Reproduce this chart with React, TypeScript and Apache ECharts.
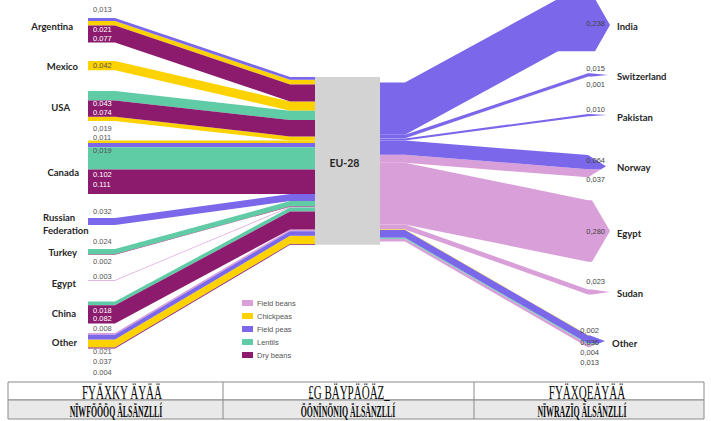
import React, { useEffect, useRef } from 'react';
import * as echarts from 'echarts';

// ---------------- data ----------------
const PRODUCTS = ['Field beans', 'Chickpeas', 'Field peas', 'Lentils', 'Dry beans'];
const HUB = 'EU-28';

const IMPORT_COUNTRIES = ['Argentina', 'Mexico', 'USA', 'Canada', 'Russian\nFederation', 'Turkey', 'Egypt', 'China', 'Other'];
const IMPORT_COUNTRY = [0, 0, 0, 1, 2, 2, 2, 3, 3, 3, 3, 4, 5, 5, 6, 7, 7, 8, 8, 8, 8];
const IMPORT_PRODUCT = [2, 1, 4, 1, 3, 4, 1, 1, 2, 3, 4, 2, 3, 4, 0, 3, 4, 0, 2, 1, 4];
const IMPORT_VALUE = [0.013, 0.021, 0.077, 0.042, 0.043, 0.074, 0.019, 0.011, 0.019, 0.102, 0.111, 0.032, 0.024, 0.002, 0.003, 0.018, 0.082, 0.008, 0.021, 0.037, 0.004];
const IMPORT_LABEL = ['0,013', '0.021', '0.077', '0.042', '0.043', '0.074', '0,019', '0,011', '0,019', '0.102', '0.111', '0.032', '0.024', '0.002', '0.003', '0.018', '0.082', '0.008', '0.021', '0.037', '0.004'];

const EXPORT_COUNTRIES = ['India', 'Switzerland', 'Pakistan', 'Norway', 'Egypt', 'Sudan', 'Other'];
const EXPORT_COUNTRY = [0, 1, 1, 2, 3, 3, 4, 5, 6, 6, 6, 6];
const EXPORT_PRODUCT = [2, 2, 0, 2, 2, 0, 0, 0, 1, 2, 3, 0];
const EXPORT_VALUE = [0.238, 0.015, 0.001, 0.010, 0.064, 0.037, 0.280, 0.023, 0.002, 0.036, 0.004, 0.013];
const EXPORT_LABEL = ['0,238', '0,015', '0,001', '0,010', '0,064', '0,037', '0,280', '0,023', '0,002', '0,036', '0,004', '0,013'];

const TABLE_ROW1 = ['FYÄXKY ÄYÄÄ', '£G BÄYPÄÖÄZ_', 'FYÄXQEÄYÄÄ'];
const TABLE_ROW2 = ['NÏWFÖÖÖQ ÄLSÄNZLLÍ', 'ÖÖNÏNÖNIQ ÄLSÄNZLLÍ', 'NÏWRAZÏQ ÄLSÄNZLLÍ'];

// ---------------- styles ----------------
const PRODUCT_COLORS = ['#d99fd8', '#fcd200', '#7a67ea', '#5fcca6', '#8c1b6e'];
const HUB_COLOR = '#d3d3d3';
const FONT = "'Liberation Sans', Arial, sans-serif";
const NAME_FONT = "Lato, 'Liberation Sans', sans-serif";

// ---------------- layout (x in px units of the x axis, y in value units) ----------------
const Y_SPAN = 421 / 220;
const X_LEFT = 88, X_LEFT_BEND = 115, X_HUB_BEND = 290, X_HUB_L = 315, X_HUB_R = 380, X_OUT_BEND = 405;
const HUB_IN_TOP = 0.35, HUB_OUT_TOP = 0.375;
const IMPORT_NODE_TOP = [0.082, 0.277, 0.414, 0.639, 0.991, 1.132, 1.273, 1.37, 1.514];
const EXPORT_NODE_TOP = [-0.005, 0.333, 0.518, 0.705, 0.91, 1.316, 1.523];
const EXPORT_BEND = [558, 588, 588, 588, 588, 588, 588];
const EXPORT_TIP = [610, 608, 607, 606, 610, 610, 605];
const EXPORT_HEAD = [15, 18, 18, 18, 18, 18, 16];
const IMPORT_LABEL_X = 93;
const IMPORT_LABEL_DY = [-9, 8.1, 12.5, 4.1, 12.9, 12.2, 11.2, -2.6, 7, 27.8, 14.4, -7, -8, 6.7, -4, 9.2, 13.6, -5.0, 17.1, 22.5, 24.4];
const IMPORT_LABEL_LIGHT = [0, 1, 1, 0, 1, 1, 0, 0, 0, 1, 1, 0, 0, 0, 0, 1, 1, 0, 0, 0, 0];
const EXPORT_LABEL_X = [605, 605, 605, 605, 605, 605, 605, 605, 599, 599, 599, 599];
const EXPORT_LABEL_DY = [25, -4.3, 8.4, -4, 4.9, 10.8, 30.8, -8.5, -4.1, 6.5, 8.6, 17.7];
const IMPORT_NAME_X = [73, 78, 70, 79, 43, 77, 76, 76, 77];
const IMPORT_NAME_ALIGN = ['right', 'right', 'right', 'right', 'left', 'right', 'right', 'right', 'right'];
const IMPORT_NAME_DY = [-4, 0.5, 1, 5, 2, 1, 3, 0.6, 2];
const EXPORT_NAME_X = [617, 617, 617, 617, 617, 617, 612];
const EXPORT_NAME_DY = [1.5, 1.5, 2, 1.5, 2, 1.5, 2];

// ---------------- derived stacking ----------------
const importLeftY0: number[] = [];
const importHubY0: number[] = [];
const importNodeTotal = IMPORT_COUNTRIES.map(() => 0);
{
  let hub = HUB_IN_TOP;
  IMPORT_VALUE.forEach((v, i) => {
    const c = IMPORT_COUNTRY[i];
    importLeftY0.push(IMPORT_NODE_TOP[c] + importNodeTotal[c]);
    importNodeTotal[c] += v;
    importHubY0.push(hub);
    hub += v;
  });
}
const HUB_BOTTOM = HUB_IN_TOP + IMPORT_VALUE.reduce((a, b) => a + b, 0);

const exportRightY0: number[] = [];
const exportHubY0: number[] = [];
const exportNodeTotal = EXPORT_COUNTRIES.map(() => 0);
{
  let hub = HUB_OUT_TOP;
  EXPORT_VALUE.forEach((v, i) => {
    const c = EXPORT_COUNTRY[i];
    exportRightY0.push(EXPORT_NODE_TOP[c] + exportNodeTotal[c]);
    exportNodeTotal[c] += v;
    exportHubY0.push(hub);
    hub += v;
  });
}

type Ann = { text: string; x: number; y: number; dy: number; align: string; fill: string; size: number; weight: string; family: string };
const annotations: Ann[] = [];
IMPORT_VALUE.forEach((_, i) => annotations.push({
  text: IMPORT_LABEL[i], x: IMPORT_LABEL_X, y: importLeftY0[i], dy: IMPORT_LABEL_DY[i], align: 'left',
  fill: IMPORT_LABEL_LIGHT[i] ? '#ffffff' : '#555555', size: 7.5, weight: 'normal', family: FONT,
}));
EXPORT_VALUE.forEach((_, i) => annotations.push({
  text: EXPORT_LABEL[i], x: EXPORT_LABEL_X[i], y: exportRightY0[i], dy: EXPORT_LABEL_DY[i], align: 'right',
  fill: '#444444', size: 7.5, weight: 'normal', family: FONT,
}));
IMPORT_COUNTRIES.forEach((name, c) => annotations.push({
  text: name, x: IMPORT_NAME_X[c], y: IMPORT_NODE_TOP[c] + importNodeTotal[c] / 2, dy: IMPORT_NAME_DY[c],
  align: IMPORT_NAME_ALIGN[c], fill: '#262626', size: 9.5, weight: 'bold', family: NAME_FONT,
}));
EXPORT_COUNTRIES.forEach((name, c) => annotations.push({
  text: name, x: EXPORT_NAME_X[c], y: EXPORT_NODE_TOP[c] + exportNodeTotal[c] / 2, dy: EXPORT_NAME_DY[c],
  align: 'left', fill: '#262626', size: 9.5, weight: 'bold', family: NAME_FONT,
}));

function renderBand(_params: any, api: any) {
  const kind = api.value(0);
  const i = api.value(1);
  let pts: number[][];
  if (kind === 0) {
    const v = IMPORT_VALUE[i], a = importLeftY0[i], b = importHubY0[i];
    pts = [[X_LEFT, a], [X_LEFT_BEND, a], [X_HUB_BEND, b], [X_HUB_L, b], [X_HUB_L, b + v], [X_HUB_BEND, b + v], [X_LEFT_BEND, a + v], [X_LEFT, a + v]];
  } else {
    const v = EXPORT_VALUE[i], c = EXPORT_COUNTRY[i], e = exportHubY0[i], r = exportRightY0[i];
    const tot = exportNodeTotal[c], mid = EXPORT_NODE_TOP[c] + tot / 2, half = tot / 2;
    const tip = EXPORT_TIP[c], base = tip - EXPORT_HEAD[c], bend = EXPORT_BEND[c];
    const xe = (y: number) => base + (tip - base) * Math.max(0, 1 - Math.abs(y - mid) / half);
    pts = [[X_HUB_R, e], [X_OUT_BEND, e], [bend, r], [xe(r), r]];
    if (r < mid && r + v > mid) pts.push([tip, mid]);
    pts.push([xe(r + v), r + v], [bend, r + v], [X_OUT_BEND, e + v], [X_HUB_R, e + v]);
  }
  return {
    type: 'polygon',
    shape: { points: pts.map((p) => api.coord(p)) },
    style: { fill: api.visual('color') },
  };
}

function renderHub(_params: any, api: any) {
  const p0 = api.coord([X_HUB_L, HUB_IN_TOP]);
  const p1 = api.coord([X_HUB_R, HUB_BOTTOM]);
  return {
    type: 'group',
    children: [
      { type: 'rect', shape: { x: p0[0], y: p0[1], width: p1[0] - p0[0], height: p1[1] - p0[1] }, style: { fill: HUB_COLOR } },
      {
        type: 'text', x: (p0[0] + p1[0]) / 2 - 3, y: (p0[1] + p1[1]) / 2 + 2,
        style: { text: HUB, fill: '#262626', font: `bold 10.5px ${NAME_FONT}`, align: 'center', verticalAlign: 'middle' },
      },
    ],
  };
}

function renderAnn(_params: any, api: any) {
  const a = annotations[api.value(0)];
  const p = api.coord([a.x, a.y]);
  return {
    type: 'text', x: p[0], y: p[1] + a.dy,
    style: {
      text: a.text, fill: a.fill, font: `${a.weight} ${a.size}px ${a.family}`,
      align: a.align, verticalAlign: 'middle', lineHeight: 13,
    },
  };
}

const bandSeries = PRODUCTS.map((name, p) => {
  const data: number[][] = [];
  IMPORT_PRODUCT.forEach((q, i) => { if (q === p) data.push([0, i]); });
  EXPORT_PRODUCT.forEach((q, i) => { if (q === p) data.push([1, i]); });
  return {
    type: 'custom', name, renderItem: renderBand, data, z: 2, silent: true,
    itemStyle: { color: PRODUCT_COLORS[p] }, color: PRODUCT_COLORS[p],
  };
});

const COL_X = [8, 223, 474, 704];
const ROW_Y = [382, 400, 419];
const tableGraphic: any[] = [
  { type: 'rect', shape: { x: COL_X[0], y: ROW_Y[0], width: COL_X[3] - COL_X[0], height: ROW_Y[1] - ROW_Y[0] }, style: { fill: '#ffffff', stroke: '#8a8a8a', lineWidth: 1 } },
  { type: 'rect', shape: { x: COL_X[0], y: ROW_Y[1], width: COL_X[3] - COL_X[0], height: ROW_Y[2] - ROW_Y[1] }, style: { fill: '#e9e9e9', stroke: '#8a8a8a', lineWidth: 1 } },
  { type: 'line', shape: { x1: COL_X[1], y1: ROW_Y[0], x2: COL_X[1], y2: ROW_Y[2] }, style: { stroke: '#8a8a8a', lineWidth: 1 } },
  { type: 'line', shape: { x1: COL_X[2], y1: ROW_Y[0], x2: COL_X[2], y2: ROW_Y[2] }, style: { stroke: '#8a8a8a', lineWidth: 1 } },
];
const ROW1_CX = [122, 349, 587];
const ROW2_CX = [116, 348, 582];
TABLE_ROW1.forEach((t, i) => tableGraphic.push({
  type: 'text', x: ROW1_CX[i], y: (ROW_Y[0] + ROW_Y[1]) / 2 + 1.5, scaleX: 0.58,
  style: { text: t, fill: '#0a0a0a', font: "19px 'Liberation Serif', serif", align: 'center', verticalAlign: 'middle' },
}));
TABLE_ROW2.forEach((t, i) => tableGraphic.push({
  type: 'text', x: ROW2_CX[i], y: (ROW_Y[1] + ROW_Y[2]) / 2 + 1.5, scaleX: 0.46,
  style: { text: t, fill: '#0a0a0a', font: "bold 17px 'Liberation Serif', serif", align: 'center', verticalAlign: 'middle' },
}));

const option: any = {
  animation: false,
  backgroundColor: '#ffffff',
  textStyle: { fontFamily: FONT },
  grid: { left: 0, top: 0, right: 0, bottom: 0, containLabel: false },
  xAxis: { type: 'value', min: 0, max: 711, show: false },
  yAxis: { type: 'value', min: 0, max: Y_SPAN, inverse: true, show: false },
  legend: {
    data: PRODUCTS, orient: 'vertical', left: 242, top: 299, padding: 0,
    itemWidth: 11, itemHeight: 6, itemGap: 5, icon: 'rect', selectedMode: false,
    textStyle: { fontSize: 7.5, color: '#555555', fontFamily: FONT, lineHeight: 8, padding: [0, 0, 0, -1] },
  },
  series: [
    ...bandSeries,
    { type: 'custom', name: HUB, renderItem: renderHub, data: [[0, 0]], z: 3, silent: true },
    { type: 'custom', name: 'labels', renderItem: renderAnn, data: annotations.map((_, i) => [i, 0]), z: 4, silent: true },
  ],
  graphic: tableGraphic,
};

export default function App() {
  const ref = useRef<HTMLDivElement>(null);
  useEffect(() => {
    const chart = echarts.init(ref.current!, undefined, { renderer: 'svg' });
    chart.setOption(option);
    return () => chart.dispose();
  }, []);
  return <div ref={ref} style={{ position: 'absolute', left: 0, top: 0, width: 711, height: 421, background: '#fff' }} />;
}
